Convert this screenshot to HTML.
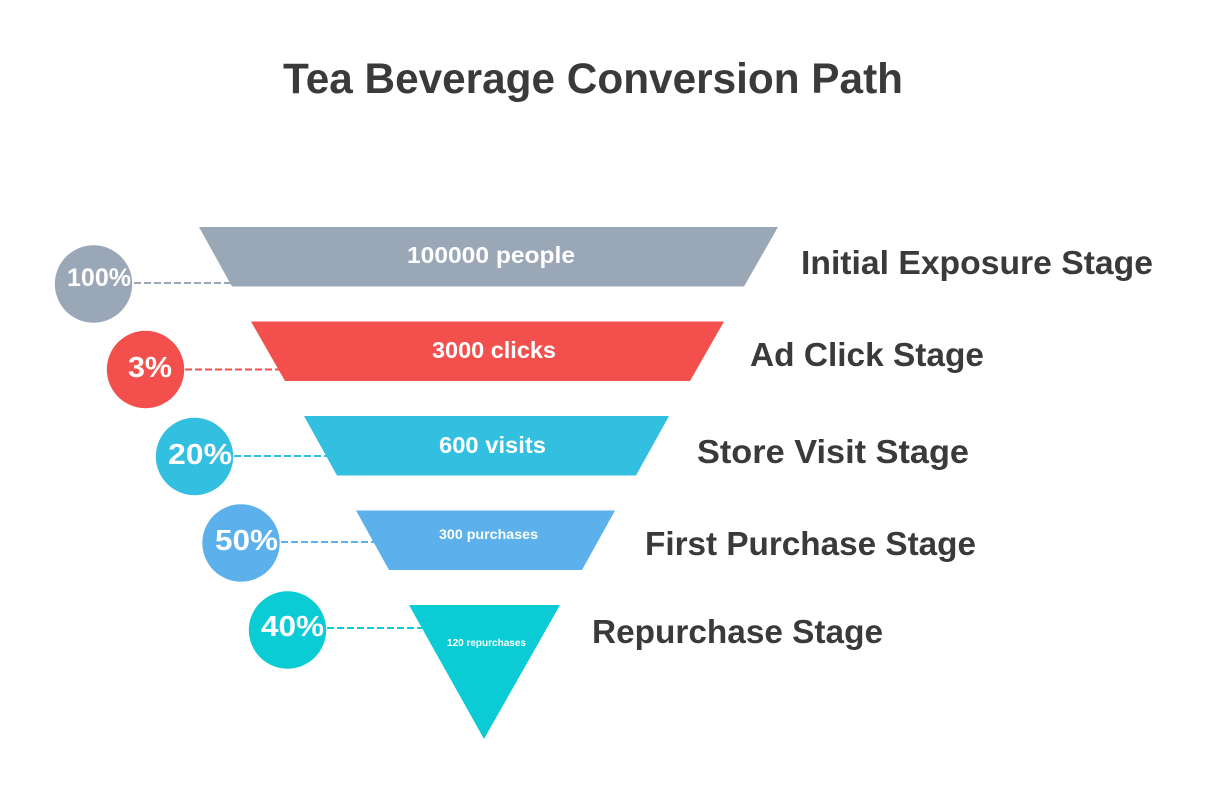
<!DOCTYPE html>
<html><head><meta charset="utf-8">
<style>html,body{margin:0;padding:0;background:#fff;width:1214px;height:795px;overflow:hidden}svg{display:block}
text{font-family:"Liberation Sans","DejaVu Sans",sans-serif;font-weight:700}</style></head>
<body>
<svg width="1214" height="795" viewBox="0 0 1214 795" xmlns="http://www.w3.org/2000/svg">
<rect width="1214" height="795" fill="#fff"/>
<text x="283" y="93" font-size="43" fill="#3a3a3a" textLength="620" lengthAdjust="spacingAndGlyphs">Tea Beverage Conversion Path</text>

<polygon points="199,227 778,227 744,286.500 232,286.500" fill="#9aa7b6"/>
<polygon points="251,321.500 724,321.500 690,381 285,381" fill="#f34f4c"/>
<polygon points="304,416 669,416 636,475.500 337,475.500" fill="#33bfdf"/>
<polygon points="356,510.500 615,510.500 582,570 389,570" fill="#5cb1ec"/>
<polygon points="409,605 560,605 484,739" fill="#0bccd4"/>

<circle cx="93.500" cy="284" r="38.700" fill="#9aa7b6"/>
<circle cx="145.500" cy="369.500" r="38.700" fill="#f34f4c"/>
<circle cx="194.500" cy="456.500" r="38.700" fill="#33bfdf"/>
<circle cx="241" cy="543" r="38.700" fill="#5cb1ec"/>
<circle cx="287.500" cy="630" r="38.700" fill="#0bccd4"/>

<g stroke-width="2" stroke-dasharray="7 3" fill="none">
<line x1="134" y1="283" x2="232" y2="283" stroke="#9aa7b6"/>
<line x1="185" y1="369.500" x2="280" y2="369.500" stroke="#f34f4c"/>
<line x1="234" y1="456" x2="328" y2="456" stroke="#33bfdf"/>
<line x1="281" y1="542" x2="374" y2="542" stroke="#5cb1ec"/>
<line x1="327" y1="628" x2="422" y2="628" stroke="#0bccd4"/>
</g>

<g fill="#fff">
<text x="67" y="286" font-size="25" textLength="64" lengthAdjust="spacingAndGlyphs">100%</text>
<text x="128" y="377" font-size="29" textLength="44" lengthAdjust="spacingAndGlyphs">3%</text>
<text x="168" y="464" font-size="29" textLength="64" lengthAdjust="spacingAndGlyphs">20%</text>
<text x="215" y="550" font-size="29" textLength="63" lengthAdjust="spacingAndGlyphs">50%</text>
<text x="261" y="636" font-size="29" textLength="63" lengthAdjust="spacingAndGlyphs">40%</text>
<text x="407" y="263" font-size="23" textLength="168" lengthAdjust="spacingAndGlyphs">100000 people</text>
<text x="432" y="358" font-size="23" textLength="124" lengthAdjust="spacingAndGlyphs">3000 clicks</text>
<text x="439" y="453" font-size="23" textLength="107" lengthAdjust="spacingAndGlyphs">600 visits</text>
<text x="439" y="539" font-size="13.500" textLength="99" lengthAdjust="spacingAndGlyphs">300 purchases</text>
<text x="447" y="646" font-size="10.500" textLength="79" lengthAdjust="spacingAndGlyphs">120 repurchases</text>
</g>

<g fill="#3a3a3a" font-size="33">
<text x="801" y="274" textLength="352" lengthAdjust="spacingAndGlyphs">Initial Exposure Stage</text>
<text x="750" y="366" textLength="234" lengthAdjust="spacingAndGlyphs">Ad Click Stage</text>
<text x="697" y="463" textLength="272" lengthAdjust="spacingAndGlyphs">Store Visit Stage</text>
<text x="645" y="555" textLength="331" lengthAdjust="spacingAndGlyphs">First Purchase Stage</text>
<text x="592" y="643" textLength="291" lengthAdjust="spacingAndGlyphs">Repurchase Stage</text>
</g>
</svg>
</body></html>
